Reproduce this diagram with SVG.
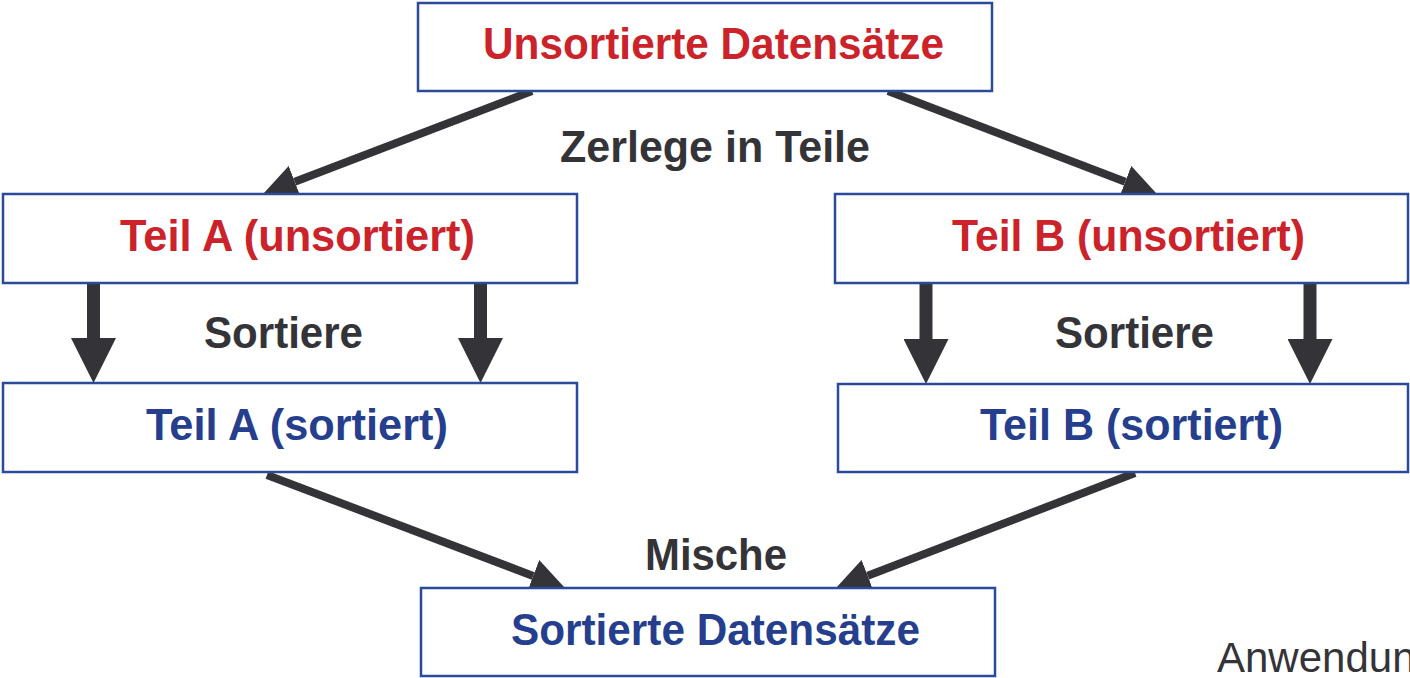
<svg xmlns="http://www.w3.org/2000/svg" width="1410" height="678" viewBox="0 0 1410 678">
<style>
.box{fill:#fff;stroke:#2b4a9a;stroke-width:2.5}
.t{font-family:"Liberation Sans",Arial,sans-serif;font-weight:bold;font-size:44px}
.red{fill:#cc2229}
.blue{fill:#253f8e}
.gray{fill:#343438}
.diag{stroke:#343438;stroke-width:8;fill:none}
.vert{stroke:#343438;stroke-width:13;fill:none}
</style>
<defs>
<marker id="hd" markerUnits="userSpaceOnUse" markerWidth="34" markerHeight="34" refX="0" refY="17" orient="auto" viewBox="0 0 34 34">
<path d="M0,0 L34,17 L0,34 Z" fill="#343438"/>
</marker>
<marker id="hv" markerUnits="userSpaceOnUse" markerWidth="45" markerHeight="45" refX="0" refY="22.5" orient="auto" viewBox="0 0 45 45">
<path d="M0,0 L45,22.5 L0,45 Z" fill="#343438"/>
</marker>
</defs>
<g id="connectors">
<line class="diag" x1="532" y1="91" x2="294.8" y2="181.8" marker-end="url(#hd)"/>
<line class="diag" x1="888" y1="91" x2="1125.2" y2="181.8" marker-end="url(#hd)"/>
<line class="vert" x1="93.5" y1="283" x2="93.5" y2="338" marker-end="url(#hv)"/>
<line class="vert" x1="480.5" y1="283" x2="480.5" y2="338" marker-end="url(#hv)"/>
<line class="vert" x1="926" y1="284" x2="926" y2="339" marker-end="url(#hv)"/>
<line class="vert" x1="1310" y1="284" x2="1310" y2="339" marker-end="url(#hv)"/>
<line class="diag" x1="267" y1="475" x2="533.2" y2="575.9" marker-end="url(#hd)"/>
<line class="diag" x1="1135" y1="473" x2="867.7" y2="575.8" marker-end="url(#hd)"/>
<text class="t gray" x="560" y="162" textLength="310" lengthAdjust="spacingAndGlyphs">Zerlege in Teile</text>
<text class="t gray" x="204" y="348" textLength="159" lengthAdjust="spacingAndGlyphs">Sortiere</text>
<text class="t gray" x="1055" y="348" textLength="159" lengthAdjust="spacingAndGlyphs">Sortiere</text>
<text class="t gray" x="645" y="570" textLength="142" lengthAdjust="spacingAndGlyphs">Mische</text>
</g>
<g id="unsorted">
<rect class="box" x="418" y="3" width="574" height="88"/>
<text class="t red" x="483" y="59" textLength="461" lengthAdjust="spacingAndGlyphs">Unsortierte Datensätze</text>
</g>
<g id="teilA-unsorted">
<rect class="box" x="3" y="194" width="574" height="89"/>
<text class="t red" x="120" y="251" textLength="355" lengthAdjust="spacingAndGlyphs">Teil A (unsortiert)</text>
</g>
<g id="teilB-unsorted">
<rect class="box" x="835" y="194" width="573" height="89"/>
<text class="t red" x="952" y="251" textLength="353" lengthAdjust="spacingAndGlyphs">Teil B (unsortiert)</text>
</g>
<g id="teilA-sorted">
<rect class="box" x="3" y="383" width="574" height="89"/>
<text class="t blue" x="146" y="440" textLength="302" lengthAdjust="spacingAndGlyphs">Teil A (sortiert)</text>
</g>
<g id="teilB-sorted">
<rect class="box" x="838" y="384" width="570" height="88"/>
<text class="t blue" x="980" y="440" textLength="303" lengthAdjust="spacingAndGlyphs">Teil B (sortiert)</text>
</g>
<g id="sorted">
<rect class="box" x="421" y="588" width="574" height="88"/>
<text class="t blue" x="511" y="645" textLength="409" lengthAdjust="spacingAndGlyphs">Sortierte Datensätze</text>
</g>
<text x="1217" y="672" font-family="Liberation Sans, Arial, sans-serif" font-size="42" fill="#343438">Anwendun</text>
</svg>
